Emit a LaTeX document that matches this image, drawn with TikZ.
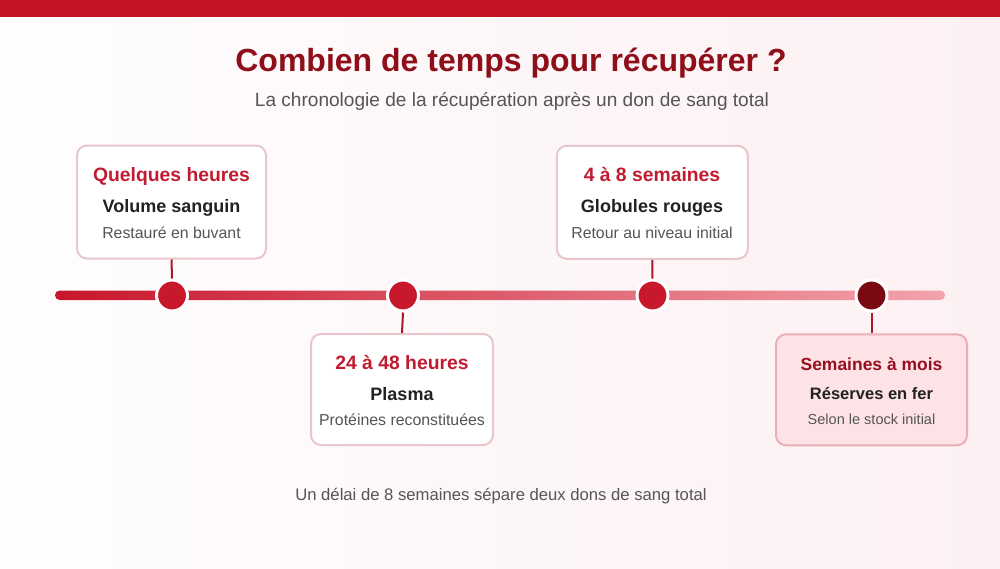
\documentclass[tikz,border=0pt]{standalone}
\usepackage{fontspec}
\setmainfont{Liberation Sans}
\definecolor{barred}{HTML}{C41426}
\definecolor{titlered}{HTML}{8E0F1A}
\definecolor{headred}{HTML}{C01B30}
\definecolor{darkhead}{HTML}{960F1E}
\definecolor{subgray}{HTML}{555555}
\definecolor{txtblack}{HTML}{222222}
\definecolor{boxborder}{HTML}{E9C6CB}
\definecolor{pinkfill}{HTML}{FDE2E6}
\definecolor{pinkborder}{HTML}{EAAEB7}
\definecolor{dotred}{HTML}{C8182C}
\definecolor{dotdark}{HTML}{7A0A12}
\definecolor{linestart}{HTML}{C8162C}
\definecolor{lineend}{HTML}{F2A3AC}
\definecolor{bgright}{HTML}{FCEEF1}
\definecolor{connred}{HTML}{A8182A}
\begin{document}
\begin{tikzpicture}[x=0.75pt,y=-0.75pt,
  card/.style={draw=boxborder, fill=white, line width=1.5pt, rounded corners=7.5pt, inner sep=0pt},
  pinkcard/.style={card, draw=pinkborder, fill=pinkfill},
  dot/.style={circle, fill=dotred, draw=white, line width=2.25pt, minimum size=23.25pt, inner sep=0pt},
  conn/.style={draw=connred, line width=1.5pt},
  head/.style={anchor=base, text=headred, font=\bfseries\fontsize{14.5}{16}\selectfont},
  label/.style={anchor=base, text=txtblack, font=\bfseries\fontsize{13.5}{15}\selectfont},
  note/.style={anchor=base, text=subgray, font=\fontsize{11.9}{13}\selectfont}]
\useasboundingbox (0,0) rectangle (1000,568);
% background
\begin{scope}
\clip (0,0) rectangle (1000,568);
\fill[white] (0,0) rectangle (1000,568);
\shade[left color=white, right color=bgright] (-150,-100) rectangle (1150,700);
\end{scope}
\fill[barred] (0,0) rectangle (1000,17);
% title
\node[anchor=base, text=titlered, font=\bfseries\fontsize{24}{28}\selectfont] (title) at (511,71) {Combien de temps pour récupérer ?};
\node[anchor=base, text=subgray, font=\fontsize{14.3}{16}\selectfont] (subtitle) at (512,106.5) {La chronologie de la récupération après un don de sang total};
% timeline
\shade[left color=linestart, right color=lineend, rounded corners=3.5pt] (55,290.5) rectangle (945,300);
\node[dot] (d1) at (172,295.5) {};
\node[dot] (d2) at (403,295.5) {};
\node[dot] (d3) at (652.5,295.5) {};
\node[dot, fill=dotdark] (d4) at (871.5,295.5) {};
% cards
\node[card, minimum width=141.75pt, minimum height=84.75pt] (b1) at (171.5,202) {};
\node[card, minimum width=136.5pt, minimum height=83.25pt] (b2) at (402,389.5) {};
\node[card, minimum width=143.25pt, minimum height=84.75pt] (b3) at (652.3,202.3) {};
\node[pinkcard, minimum width=143.25pt, minimum height=83.25pt] (b4) at (871.5,389.8) {};
% connectors
\draw[conn] (b1.south) -- (d1.north);
\draw[conn] (b2.north) -- (d2.south);
\draw[conn] (b3.south) -- (d3.north);
\draw[conn] (b4.north) -- (d4.south);
% texts card 1
\node[head] (h1) at (171.5,181.5) {Quelques heures};
\node[label] (l1) at (171.5,212) {Volume sanguin};
\node[note] (n1) at (171.5,238) {Restauré en buvant};
% card 2
\node[head] (h2) at (402,369.5) {24 à 48 heures};
\node[label] (l2) at (402,400) {Plasma};
\node[note] (n2) at (402,425.5) {Protéines reconstituées};
% card 3
\node[head] (h3) at (652,181.5) {4 à 8 semaines};
\node[label] (l3) at (652,212.5) {Globules rouges};
\node[note] (n3) at (652,238.5) {Retour au niveau initial};
% card 4
\node[head, text=darkhead, font=\bfseries\fontsize{13.1}{15}\selectfont] (h4) at (871.5,370) {Semaines à mois};
\node[label, font=\bfseries\fontsize{12.4}{14}\selectfont] (l4) at (871.5,399) {Réserves en fer};
\node[note, font=\fontsize{10.9}{12}\selectfont] (n4) at (871.5,424) {Selon le stock initial};
% footer
\node[anchor=base, text=subgray, font=\fontsize{12.5}{14}\selectfont] (foot) at (501,500) {Un délai de 8 semaines sépare deux dons de sang total};
\end{tikzpicture}
\end{document}
